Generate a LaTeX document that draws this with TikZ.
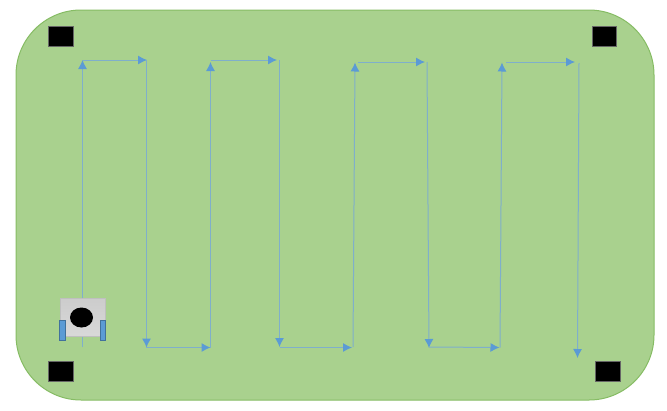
\documentclass[tikz,border=0pt]{standalone}
\usetikzlibrary{arrows.meta,shapes.geometric}
\definecolor{fieldgreen}{HTML}{A9D18E}
\definecolor{fieldedge}{HTML}{86BC64}
\definecolor{routeblue}{HTML}{5B9BD5}
\definecolor{routeline}{HTML}{7FAFCB}
\definecolor{wheeledge}{HTML}{41719C}
\tikzset{
  route/.style={draw=routeline, line width=1pt, -{Latex[length=9pt,width=9pt,color=routeblue]}},
  marker/.style={draw=black!60, fill=black, line width=0.6pt, inner sep=0pt, minimum width=24.5pt, minimum height=20pt},
  wheel/.style={draw=wheeledge, fill=routeblue, line width=1pt, inner sep=0pt, minimum width=5.5pt, minimum height=20pt}
}
\begin{document}
\begin{tikzpicture}[x=1pt, y=-1pt]
        \useasboundingbox (0,0) rectangle (667,410);

        \node[draw=fieldedge, fill=fieldgreen, line width=1pt, rounded corners=65pt, inner sep=0pt,
              minimum width=638pt, minimum height=390pt] (field) at (335,205) {};

        \node[marker] (markerTL) at (60.8,36) {};
        \node[marker] (markerTR) at (604.5,36) {};
        \node[marker] (markerBL) at (60.8,371) {};
        \node[marker] (markerBR) at (607.8,371) {};

        \coordinate (a0) at (82.5,347);
        \coordinate (a1) at (82.5,60);
        \coordinate (a2) at (83,60);
        \coordinate (a3) at (147,60);
        \coordinate (b0) at (146.5,60);
        \coordinate (b1) at (146.5,347.5);
        \coordinate (b2) at (146,347.5);
        \coordinate (b3) at (210.5,347.5);
        \coordinate (c0) at (210.5,347.5);
        \coordinate (c1) at (210.5,62);
        \coordinate (c2) at (210.5,60);
        \coordinate (c3) at (277,60);
        \coordinate (d0) at (279.5,60);
        \coordinate (d1) at (279.5,347);
        \coordinate (d2) at (279.5,347.5);
        \coordinate (d3) at (352,347.5);
        \coordinate (e0) at (353,347);
        \coordinate (e1) at (355,62.5);
        \coordinate (e2) at (358,62);
        \coordinate (e3) at (425,62);
        \coordinate (f0) at (427,62);
        \coordinate (f1) at (429,348);
        \coordinate (f2) at (429,347);
        \coordinate (f3) at (499.5,347.5);
        \coordinate (g0) at (500,347.5);
        \coordinate (g1) at (502,62.5);
        \coordinate (g2) at (506,62);
        \coordinate (g3) at (575,62);
        \coordinate (h0) at (579,63);
        \coordinate (h1) at (577.5,358);

        \draw[route] (a0) -- (a1);
        \draw[route] (a2) -- (a3);
        \draw[route] (b0) -- (b1);
        \draw[route] (b2) -- (b3);
        \draw[route] (c0) -- (c1);
        \draw[route] (c2) -- (c3);
        \draw[route] (d0) -- (d1);
        \draw[route] (d2) -- (d3);
        \draw[route] (e0) -- (e1);
        \draw[route] (e2) -- (e3);
        \draw[route] (f0) -- (f1);
        \draw[route] (f2) -- (f3);
        \draw[route] (g0) -- (g1);
        \draw[route] (g2) -- (g3);
        \draw[route] (h0) -- (h1);

        \node[draw=black!25, top color=black!20, bottom color=black!15, line width=1pt, inner sep=0pt,
              minimum width=45pt, minimum height=38pt] (robot) at (83,317.5) {};
        \node[ellipse, fill=black, inner sep=0pt, minimum width=23pt, minimum height=20pt] (sensor) at (81.5,317.5) {};
        \node[wheel] (wheelL) at (62.3,330) {};
        \node[wheel] (wheelR) at (103,330.5) {};
\end{tikzpicture}
\end{document}
